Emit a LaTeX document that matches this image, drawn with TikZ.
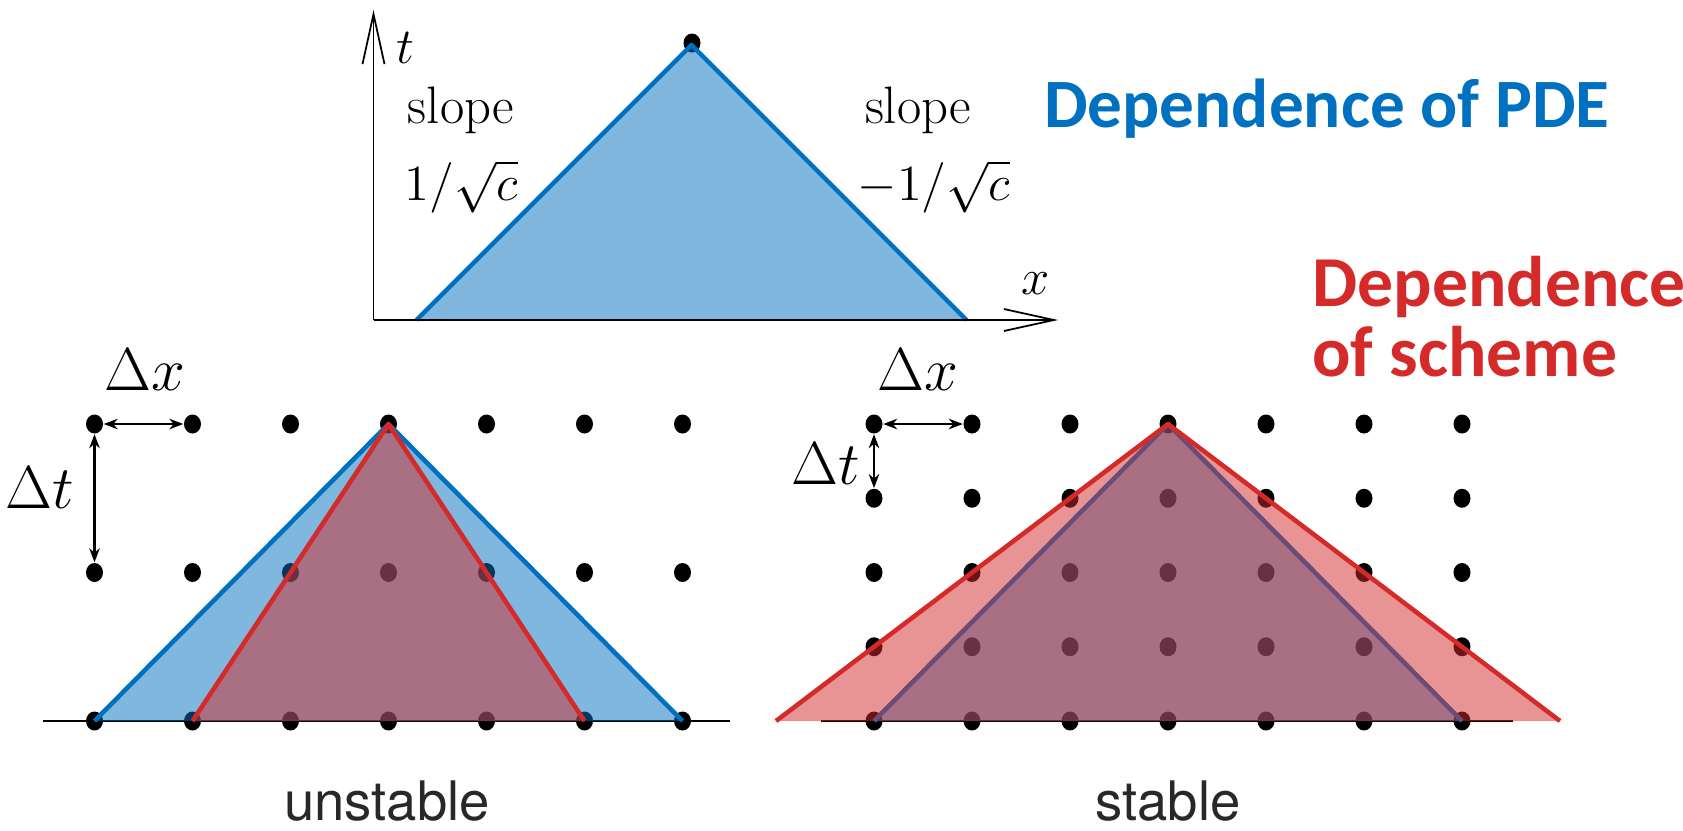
\documentclass[tikz,border=0pt]{standalone}
\usepackage{fontspec}
\usepackage{amssymb}
\usetikzlibrary{arrows.meta,shapes.geometric}
\newfontfamily\headfont{Carlito}
\newfontfamily\capfont{TeX Gyre Heros}
\definecolor{pdeblue}{RGB}{0,112,192}
\definecolor{schemered}{RGB}{212,42,42}
\definecolor{capgray}{RGB}{40,40,40}

\begin{document}
\begin{tikzpicture}[
	dot/.style={ellipse, fill=black, inner sep=0pt, minimum width=0.17cm, minimum height=0.19cm},
	pdefill/.style={fill=pdeblue, fill opacity=0.5},
	pdeline/.style={draw=pdeblue, line width=1.3pt, line join=round},
	schemefill/.style={fill=schemered, fill opacity=0.5},
	schemeline/.style={draw=schemered, line width=1.3pt, line join=round},
	axis/.style={line width=0.5pt, -{Straight Barb[length=0.5cm, width=0.22cm]}},
	baseline/.style={line width=0.6pt},
	gap/.style={line width=0.6pt, {Stealth[length=4pt, width=3pt]}-{Stealth[length=4pt, width=3pt]}},
	lbl/.style={inner sep=0.5pt, font=\fontsize{15}{18}\selectfont},
	delta/.style={inner sep=1pt, font=\fontsize{16}{19}\selectfont},
	head/.style={inner sep=0pt, font=\headfont\bfseries\fontsize{19.7}{22}\selectfont},
	caption/.style={inner sep=0pt, text=capgray, font=\capfont\fontsize{15.5}{18}\selectfont}
	]
	\useasboundingbox (0,0) rectangle (16.83,8.30);

	% domain of the PDE
	\coordinate (O) at (3.735,5.10);
	\coordinate (tend) at (3.735,8.20);
	\coordinate (xend) at (10.58,5.10);
	\coordinate (top) at (6.915,7.85);
	\coordinate (tl) at (4.165,5.10);
	\coordinate (tr) at (9.665,5.10);
	\node[dot] (apex) at (6.92,7.87) {};
	\fill[pdefill] (top) -- (tl) -- (tr) -- cycle;
	\draw[pdeline] (tl) -- (top) -- (tr);
	\draw[axis] (O) -- (tend);
	\draw[axis] (O) -- (xend);
	\node[lbl] (tlab) at (4.05,7.82) {$t$};
	\node[lbl] (xlab) at (10.36,5.46) {$x$};
	\node[lbl] (sl1) at (4.61,7.20) {slope};
	\node[lbl] (sv1) at (4.61,6.43) {$1/\sqrt{c}$};
	\node[lbl] (sl2) at (9.18,7.20) {slope};
	\node[lbl] (sv2) at (9.34,6.43) {$-1/\sqrt{c}$};

	\node[head, text=pdeblue, anchor=base] (pde) at (13.27,7.03) {Dependence of PDE};
	\node[head, text=schemered, anchor=base west, font=\headfont\bfseries\fontsize{20.4}{22}\selectfont] (sch1) at (13.116,5.24) {Dependence};
	\node[head, text=schemered, anchor=base west, font=\headfont\bfseries\fontsize{20.4}{22}\selectfont] (sch2) at (13.116,4.54) {of scheme};

	% unstable grid
	\draw[baseline] (0.43,1.09) -- (7.30,1.09);
	\foreach \i in {-3,...,3}
		\foreach \j in {0,1,2}
			\node[dot] (u\i-\j) at ({3.885+0.98*\i},{1.09+1.485*\j}) {};
	\fill[pdefill] (u0-2.center) -- (u-3-0.center) -- (u3-0.center) -- cycle;
	\draw[pdeline] (u-3-0.center) -- (u0-2.center) -- (u3-0.center);
	\fill[schemefill] (u0-2.center) -- (u-2-0.center) -- (u2-0.center) -- cycle;
	\draw[schemeline] (u-2-0.center) -- (u0-2.center) -- (u2-0.center);
	\draw[gap] (u-3-2) -- (u-2-2);
	\draw[gap] (u-3-2) -- (u-3-1);
	\node[delta] (dxu) at (1.45,4.60) {$\Delta x$};
	\node[delta] (dtu) at (0.40,3.42) {$\Delta t$};
	\node[caption, anchor=base] (unst) at (3.87,0.10) {unstable};

	% stable grid
	\draw[baseline] (8.21,1.09) -- (15.13,1.09);
	\foreach \i in {-3,...,3}
		\foreach \j in {0,...,4}
			\node[dot] (s\i-\j) at ({11.68+0.98*\i},{1.09+0.7425*\j}) {};
	\coordinate (sl) at (7.76,1.09);
	\coordinate (sr) at (15.60,1.09);
	\fill[pdefill] (s0-4.center) -- (s-3-0.center) -- (s3-0.center) -- cycle;
	\draw[pdeline] (s-3-0.center) -- (s0-4.center) -- (s3-0.center);
	\fill[schemefill] (s0-4.center) -- (sl) -- (sr) -- cycle;
	\draw[schemeline] (sl) -- (s0-4.center) -- (sr);
	\draw[gap] (s-3-4) -- (s-2-4);
	\draw[gap] (s-3-4) -- (s-3-3);
	\node[delta] (dxs) at (9.18,4.60) {$\Delta x$};
	\node[delta] (dts) at (8.26,3.66) {$\Delta t$};
	\node[caption, anchor=base] (st) at (11.68,0.10) {stable};
\end{tikzpicture}
\end{document}
